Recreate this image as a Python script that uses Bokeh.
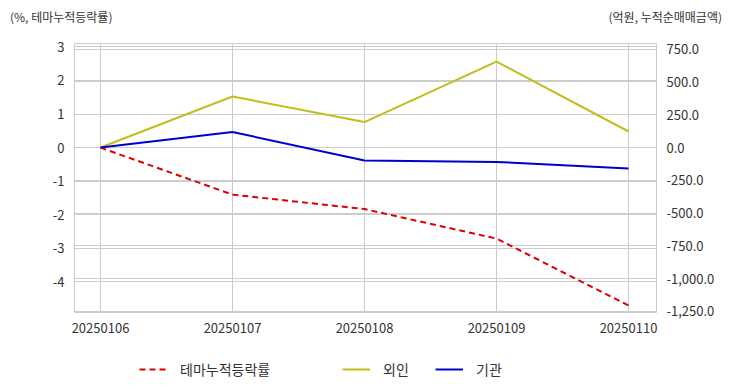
from bokeh.plotting import figure
from bokeh.layouts import column
from bokeh.models import (Range1d, LinearAxis, FixedTicker, NumeralTickFormatter, Grid,
                          Legend, LegendItem, ColumnDataSource, Div)
from bokeh.embed import file_html
from bokeh.resources import INLINE

dates = ["20250106", "20250107", "20250108", "20250109", "20250110"]
theme = [0.0, -1.40, -1.83, -2.71, -4.70]
foreign = [0.0, 389.0, 194.0, 655.0, 122.0]
inst = [0.0, 118.0, -99.0, -110.0, -160.0]
left_ticks = [-4, -3, -2, -1, 0, 1, 2, 3]
left_labels = ["-4", "-3", "-2", "-1", "0", "1", "2", "3"]
right_ticks = [-1250, -1000, -750, -500, -250, 0, 250, 500, 750]
series_names = ["테마누적등락률", "외인", "기관"]
left_title = "(%, 테마누적등락률)"
right_title = "(억원, 누적순매매금액)"

FONT = "Noto Sans CJK KR"
TXT = "#333333"
GRID = "#cccccc"
COLORS = ["#dd0000", "#c2bd1c", "#0000cc"]
DASHES = ["6 4", "solid", "solid"]
W = 732
BL, BR = 74, 76

# ---------- header ----------
css = "position:absolute;top:8px;font-family:'Noto Sans CJK KR';font-size:12px;color:#333333;white-space:nowrap;"
hdr = Div(width=W, height=35,
          text=f"<div style='position:relative;width:{W}px;height:35px;'>"
               f"<span style=\"{css}left:10px;\">{left_title}</span>"
               f"<span style=\"{css}right:10px;\">{right_title}</span></div>",
          styles={"margin": "0", "padding": "0"})

# ---------- main ----------
idx = list(range(len(dates)))
src = ColumnDataSource(dict(x=idx, theme=theme, foreign=foreign, inst=inst))

p = figure(width=W, height=305, output_backend="svg", toolbar_location=None,
           x_range=Range1d(-0.197, 4.212), y_range=Range1d(-4.91, 3.10),
           min_border_left=BL, min_border_right=BR, min_border_top=8, min_border_bottom=28)
p.extra_y_ranges = {"right": Range1d(-1258, 793)}
p.outline_line_color = GRID

p.xaxis.ticker = FixedTicker(ticks=idx)
p.xaxis.major_label_overrides = {i: d for i, d in enumerate(dates)}
p.yaxis.ticker = FixedTicker(ticks=left_ticks)
p.yaxis.major_label_overrides = {t: s for t, s in zip(left_ticks, left_labels)}

rax = LinearAxis(y_range_name="right", ticker=FixedTicker(ticks=right_ticks),
                 formatter=NumeralTickFormatter(format="0,0.0"))
p.add_layout(rax, "right")

for ax in [p.xaxis[0], p.yaxis[0], rax]:
    ax.axis_line_color = None
    ax.major_tick_line_color = None
    ax.minor_tick_line_color = None
    ax.major_label_text_font = FONT
    ax.major_label_text_font_size = "13px"
    ax.major_label_text_color = TXT
    ax.major_label_standoff = 4

p.xgrid.grid_line_color = GRID
p.ygrid.grid_line_color = GRID
p.add_layout(Grid(dimension=1, ticker=rax.ticker, y_range_name="right", grid_line_color=GRID))

p.line("x", "theme", source=src, line_color=COLORS[0], line_width=2, line_dash=DASHES[0])
p.line("x", "foreign", source=src, y_range_name="right", line_color=COLORS[1], line_width=2)
p.line("x", "inst", source=src, y_range_name="right", line_color=COLORS[2], line_width=2)

# ---------- legend ----------
lg = figure(width=W, height=52, output_backend="svg", toolbar_location=None,
            x_axis_location=None, y_axis_location=None,
            min_border_left=BL, min_border_right=BR, min_border_top=0, min_border_bottom=0,
            x_range=Range1d(0, 1), y_range=Range1d(10, 11))
lg.outline_line_color = None
lg.grid.grid_line_color = None
xs = [139 - BL, 342 - BL, 435 - BL]
for name, c, d, x0 in zip(series_names, COLORS, DASHES, xs):
    r = lg.line(x=[0], y=[0], line_color=c, line_width=2, line_dash=d)
    leg = Legend(items=[LegendItem(label=name, renderers=[r])], location=(x0, 13),
                 border_line_color=None, background_fill_alpha=0, padding=0, margin=0,
                 glyph_width=28, label_standoff=13,
                 label_text_font=FONT, label_text_font_size="14px", label_text_color=TXT)
    lg.add_layout(leg, "center")

open("out.html", "w").write(file_html(column(hdr, p, lg, spacing=0), INLINE))
